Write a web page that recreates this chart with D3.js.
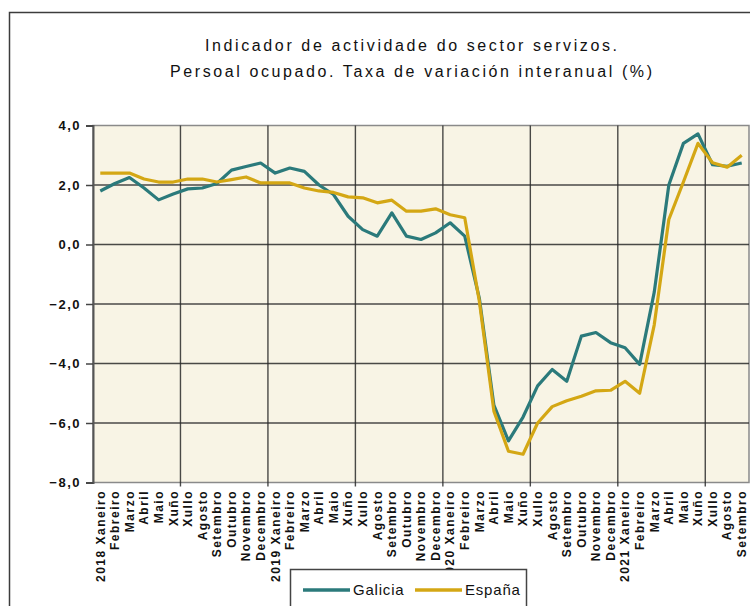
<!DOCTYPE html>
<html>
<head>
<meta charset="utf-8">
<script src="https://cdn.jsdelivr.net/npm/d3@7"></script>
<style>
  html, body { margin: 0; padding: 0; background: #fff; }
  svg { display: block; }
</style>
</head>
<body>
<svg id="chart" width="750" height="606"></svg>
<script>
const titleLines = ["Indicador de actividade do sector servizos.", "Persoal ocupado. Taxa de variación interanual (%)"];
const months = ["Xaneiro","Febreiro","Marzo","Abril","Maio","Xuño","Xullo","Agosto","Setembro","Outubro","Novembro","Decembro"];
const years = [2018, 2019, 2020, 2021];
const categories = [];
years.forEach(y => months.forEach((m, k) => {
  if (y === 2021 && k > 8) return;
  categories.push(k === 0 ? y + " " + m : m);
}));
const galicia = [1.8, 2.05, 2.25, 1.9, 1.5, 1.7, 1.87, 1.9, 2.05, 2.5, 2.62, 2.74,
  2.4, 2.57, 2.46, 2.0, 1.68, 0.95, 0.5, 0.28, 1.06, 0.28, 0.17, 0.39,
  0.73, 0.28, -1.8, -5.4, -6.6, -5.8, -4.75, -4.2, -4.6, -3.08, -2.96, -3.3,
  -3.47, -4.03, -1.6, 2.0, 3.4, 3.72, 2.68, 2.63, 2.74];
const espana = [2.4, 2.4, 2.4, 2.2, 2.1, 2.1, 2.2, 2.2, 2.1, 2.18, 2.27, 2.07,
  2.07, 2.07, 1.9, 1.8, 1.75, 1.6, 1.57, 1.4, 1.49, 1.12, 1.12, 1.2,
  1.0, 0.9, -1.9, -5.6, -6.95, -7.05, -6.0, -5.45, -5.25, -5.1, -4.92, -4.9,
  -4.6, -5.0, -2.7, 0.84, 2.1, 3.4, 2.75, 2.6, 3.0];
const yTicks = [4, 2, 0, -2, -4, -6, -8];
const seriesNames = ["Galicia", "España"];
const seriesColors = ["#2b7a7b", "#d4a714"];

const svg = d3.select("#chart");
const L = 93, R = 749, T = 125.5, B = 482.5;

// outer frame
svg.append("rect").attr("x", 9.5).attr("y", 12.5).attr("width", 800).attr("height", 700)
  .attr("fill", "none").attr("stroke", "#3c3c3c").attr("stroke-width", 1.5);

// title
svg.selectAll("text.title").data(titleLines).join("text")
  .attr("class", "title")
  .attr("x", 411).attr("y", (d, i) => 51 + i * 26)
  .attr("text-anchor", "middle")
  .attr("font-family", "'Liberation Sans', Arial, sans-serif")
  .attr("font-size", 16)
  .attr("textLength", (d, i) => i === 0 ? 412 : 482)
  .attr("lengthAdjust", "spacing")
  .attr("fill", "#111")
  .text(d => d);

const x = d3.scaleBand().domain(d3.range(categories.length)).range([L, R]).padding(0);
const y = d3.scaleLinear().domain([-8, 4]).range([B, T]);

// plot background
svg.append("rect").attr("x", L).attr("y", T).attr("width", R - L).attr("height", B - T)
  .attr("fill", "#f8f4e5").attr("stroke", "#8a8a8a").attr("stroke-width", 1.5);

// horizontal gridlines
svg.append("g").selectAll("line").data(yTicks.filter(v => v > -8 && v < 4)).join("line")
  .attr("x1", L).attr("x2", R).attr("y1", d => y(d)).attr("y2", d => y(d))
  .attr("stroke", "#2a2a2a").attr("stroke-width", 1.4).attr("stroke-opacity", 0.85);

// vertical gridlines every 6 months
const vIdx = d3.range(6, categories.length, 6);
svg.append("g").selectAll("line").data(vIdx).join("line")
  .attr("x1", d => x(d)).attr("x2", d => x(d)).attr("y1", T).attr("y2", B + 4)
  .attr("stroke", "#2a2a2a").attr("stroke-width", 1.4).attr("stroke-opacity", 0.85);

// y axis
const yAxis = d3.axisLeft(y).tickValues(yTicks).tickSize(7).tickPadding(5)
  .tickFormat(d => d3.format(".1f")(d).replace(".", ","));
const ya = svg.append("g").attr("transform", `translate(${L},0)`).call(yAxis);
ya.select(".domain").attr("stroke", "#555").attr("stroke-width", 2);
ya.selectAll(".tick line").attr("stroke", "#444").attr("stroke-width", 1.5);
ya.selectAll(".tick text")
  .attr("font-family", "'Liberation Sans', Arial, sans-serif")
  .attr("font-size", 13).attr("font-weight", "bold")
  .attr("letter-spacing", "1.5px")
  .attr("fill", "#111");

// x labels
svg.append("g").selectAll("text").data(categories).join("text")
  .attr("transform", (d, i) => `translate(${x(i) + x.bandwidth() / 2},490) rotate(-90)`)
  .attr("text-anchor", "end")
  .attr("dy", "0.36em")
  .attr("font-family", "'Liberation Sans', Arial, sans-serif")
  .attr("font-size", 12).attr("font-weight", "bold")
  .attr("letter-spacing", "1.5px")
  .attr("fill", "#111")
  .text(d => d);

// lines
const line = d3.line().x((d, i) => x(i) + x.bandwidth() / 2).y(d => y(d));
[galicia, espana].forEach((s, k) => {
  svg.append("path").datum(s).attr("d", line)
    .attr("fill", "none").attr("stroke", seriesColors[k])
    .attr("stroke-width", 3.2).attr("stroke-linejoin", "round");
});

// legend
const lg = svg.append("g");
lg.append("rect").attr("x", 290.5).attr("y", 569.5).attr("width", 236).attr("height", 60)
  .attr("fill", "#fff").attr("stroke", "#444").attr("stroke-width", 1.5);
const legX = [303, 415];
seriesNames.forEach((n, k) => {
  lg.append("line").attr("x1", legX[k]).attr("x2", legX[k] + 47).attr("y1", 590).attr("y2", 590)
    .attr("stroke", seriesColors[k]).attr("stroke-width", 3.5);
  lg.append("text").attr("x", legX[k] + 50).attr("y", 595)
    .attr("font-family", "'Liberation Sans', Arial, sans-serif")
    .attr("font-size", 15).attr("letter-spacing", "0.8px")
    .attr("fill", "#111").text(n);
});
</script>
</body>
</html>
